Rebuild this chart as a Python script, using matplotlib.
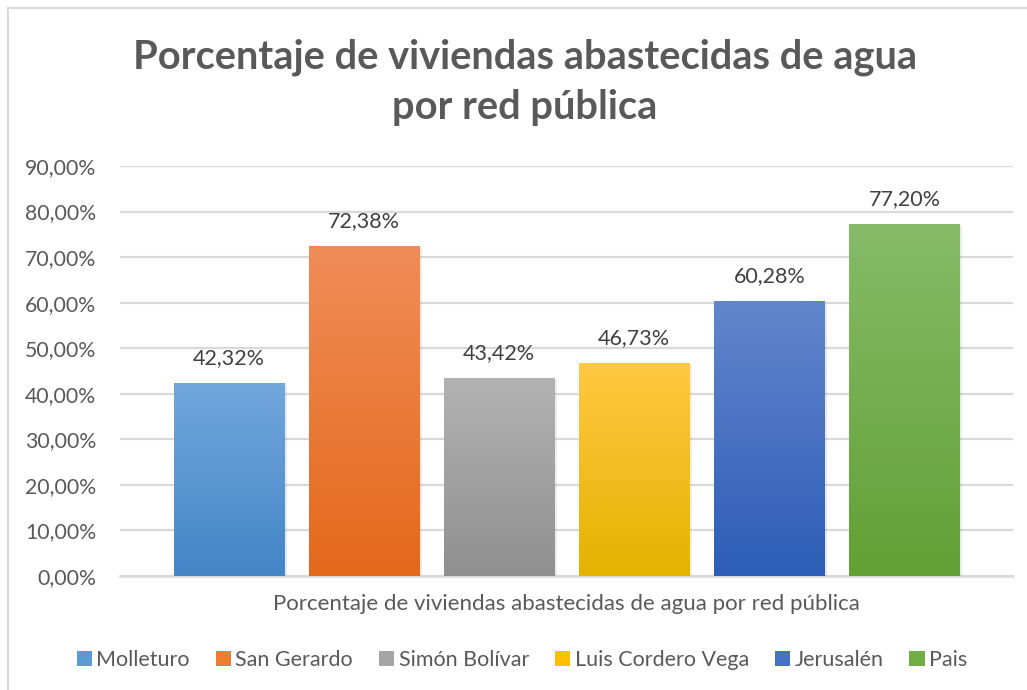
import numpy as np
import matplotlib
matplotlib.use("Agg")
import matplotlib.pyplot as plt
from matplotlib.colors import LinearSegmentedColormap
from matplotlib.patches import Patch
from matplotlib.lines import Line2D
from matplotlib import patheffects as pe

plt.rcParams['font.family'] = ['Lato', 'DejaVu Sans']

# Datos
parroquias = ['Molleturo', 'San Gerardo', 'Simón Bolívar', 'Luis Cordero Vega', 'Jerusalén', 'Pais']
porcentajes = [42.32, 72.38, 43.42, 46.73, 60.28, 77.20]
etiquetas = ['42,32%', '72,38%', '43,42%', '46,73%', '60,28%', '77,20%']
yticks = [0, 10, 20, 30, 40, 50, 60, 70, 80, 90]
ytick_labels = ['0,00%', '10,00%', '20,00%', '30,00%', '40,00%', '50,00%',
                '60,00%', '70,00%', '80,00%', '90,00%']

# colores (arriba, abajo) para el degradado
col_top = ['#72a7dc', '#f18c58', '#b2b2b2', '#ffc843', '#6286cd', '#87bb69']
col_bot = ['#4385c7', '#e3691a', '#909090', '#e4b300', '#2d5db6', '#61a034']
col_mid = ['#5b9bd5', '#ed7d31', '#a5a5a5', '#ffc000', '#4472c4', '#70ad47']

texto = '#595959'
grid = '#d9d9d9'

fig = plt.figure(figsize=(10.27, 6.9), dpi=100)
W, H = 1027, 690
ax = fig.add_axes([120 / W, 1 - 576 / H, (1013 - 120) / W, (576 - 166) / H])

x = np.arange(len(parroquias))
bars = ax.bar(x, porcentajes, width=110 / 135, color=col_mid, zorder=2,
              path_effects=[pe.SimplePatchShadow(offset=(2, -1), alpha=0.12, rho=0.7), pe.Normal()])

for b, ct, cb in zip(bars, col_top, col_bot):
    cmap = LinearSegmentedColormap.from_list('g', [cb, ct])
    grad = np.linspace(0, 1, 256).reshape(-1, 1)
    ax.imshow(grad, cmap=cmap, origin='lower', aspect='auto', zorder=3,
              extent=(b.get_x(), b.get_x() + b.get_width(), 0, b.get_height()))

for xi, v, lab in zip(x, porcentajes, etiquetas):
    ax.annotate(lab, (xi, v), xytext=(0, 18), textcoords='offset points',
                ha='center', va='center', fontsize=15.5, color='#404040', zorder=4)

ax.set_xlim(-0.807, 5.804)
ax.set_ylim(0, 90)
ax.set_yticks(yticks)
ax.set_yticklabels(ytick_labels, fontsize=15.3, color=texto)
ax.set_xticks([])
ax.tick_params(axis='y', length=0, pad=17)
ax.grid(axis='y', color=grid, linewidth=1.6, zorder=0)
ax.set_axisbelow(True)
for s in ['top', 'right', 'left']:
    ax.spines[s].set_visible(False)
ax.spines['bottom'].set_color(grid)
ax.spines['bottom'].set_linewidth(1.8)
ax.spines['bottom'].set_zorder(1)

ax.set_xlabel('Porcentaje de viviendas abastecidas de agua por red pública',
              fontsize=16, color=texto, labelpad=13)

fig.text(525 / W, 1 - 82 / H, 'Porcentaje de viviendas abastecidas de agua\npor red pública',
         ha='center', va='center', fontsize=28.7, fontweight='bold', color=texto,
         linespacing=1.45)

handles = [Patch(facecolor=c, edgecolor='none') for c in col_mid]
fig.legend(handles, parroquias, loc='center', bbox_to_anchor=(522 / W, 1 - 660 / H),
           ncol=6, frameon=False, fontsize=15.5, labelcolor=texto,
           handlelength=0.72, handleheight=0.72, handletextpad=0.2, columnspacing=1.2)

# borde del gráfico
fig.add_artist(Line2D([8 / W, 8 / W], [0, 1 - 8 / H], color=grid, linewidth=1.5))
fig.add_artist(Line2D([8 / W, 1], [1 - 8 / H, 1 - 8 / H], color=grid, linewidth=1.5))

fig.savefig('out.png', dpi=100, facecolor='white')
